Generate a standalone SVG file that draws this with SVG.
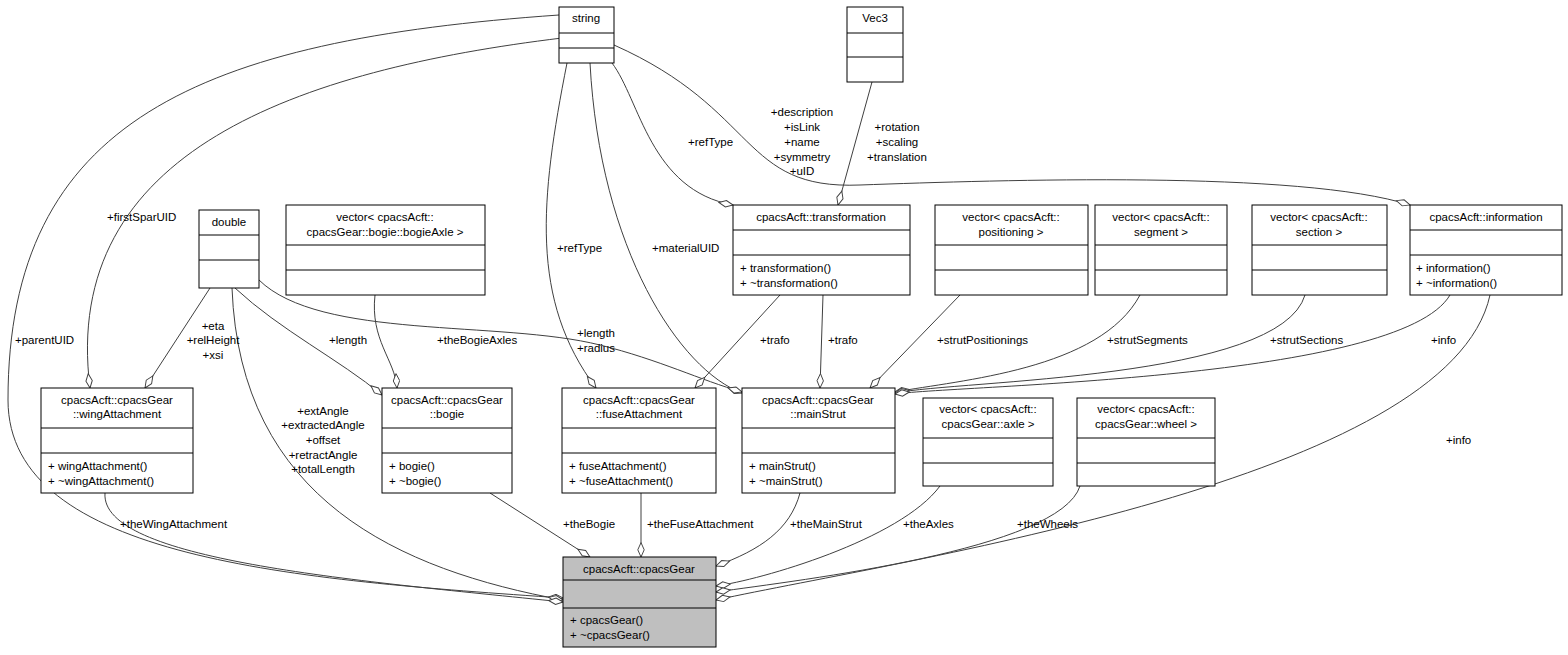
<svg xmlns="http://www.w3.org/2000/svg" width="1568" height="655" viewBox="0 0 1568 655">
<defs>
<marker id="d" viewBox="0 0 20 10" refX="19" refY="5" markerWidth="16" markerHeight="8" markerUnits="userSpaceOnUse" orient="auto">
<path d="M1,5 L10,1 L19,5 L10,9 Z" fill="#fff" stroke="#404040" stroke-width="1.2"/>
</marker>
<style>
text{font-family:"Liberation Sans",Arial,sans-serif;font-size:11.5px;fill:#000}
.b{fill:#fff;stroke:#000;stroke-width:1}
.g{fill:#bfbfbf;stroke:#000;stroke-width:1}
.c path{fill:none;stroke:#404040;stroke-width:1;marker-end:url(#d)}
.m{text-anchor:middle}
</style>
</defs>
<rect width="1568" height="655" fill="#fff"/>
<g class="c" id="connectors">
<path d="M559,15 C200,40 8,120 8,400 C8,560 300,580 563,598"/>
<path d="M562,38 C300,70 60,150 90,388"/>
<path d="M567,63 C540,200 530,300 596,388"/>
<path d="M590,63 C600,250 680,370 742,393"/>
<path d="M612,63 C640,100 650,190 733,205"/>
<path d="M614,45 C760,110 740,190 860,185 C1000,180 1300,170 1410,205"/>
<path d="M872,82 L838,205"/>
<path d="M210,288 L145,388"/>
<path d="M235,288 C280,330 340,360 382,395"/>
<path d="M259,280 C320,340 500,320 600,345 C660,360 700,380 742,392"/>
<path d="M232,288 C240,500 400,570 563,600"/>
<path d="M375,295 C370,340 395,360 397,388"/>
<path d="M780,295 L695,388"/>
<path d="M823,295 L820,388"/>
<path d="M960,295 L870,388"/>
<path d="M1140,295 C1100,370 960,380 895,392"/>
<path d="M1305,295 C1280,380 960,380 895,393"/>
<path d="M1450,295 C1400,380 960,385 895,394"/>
<path d="M1490,295 C1450,480 900,560 716,600"/>
<path d="M105,493 C100,560 350,580 563,602"/>
<path d="M490,493 L590,557"/>
<path d="M641,493 L641,557"/>
<path d="M800,493 C790,530 760,550 716,566"/>
<path d="M940,486 C900,540 760,580 716,586"/>
<path d="M1080,486 C1060,550 800,580 716,592"/>
</g>
<g id="labels">
<text x="15" y="344">+parentUID</text>
<text x="107" y="221">+firstSparUID</text>
<text x="557" y="252">+refType</text>
<text x="652" y="252">+materialUID</text>
<text x="688" y="146">+refType</text>
<text class="m" x="802" y="116">+description</text><text class="m" x="802" y="131">+isLink</text><text class="m" x="802" y="146">+name</text><text class="m" x="802" y="161">+symmetry</text><text class="m" x="802" y="175">+uID</text>
<text class="m" x="897" y="131">+rotation</text><text class="m" x="897" y="146">+scaling</text><text class="m" x="897" y="161">+translation</text>
<text class="m" x="213" y="330">+eta</text><text class="m" x="213" y="344">+relHeight</text><text class="m" x="213" y="359">+xsi</text>
<text x="329" y="344">+length</text>
<text x="437" y="344">+theBogieAxles</text>
<text class="m" x="596" y="337">+length</text><text class="m" x="596" y="352">+radius</text>
<text class="m" x="323" y="415">+extAngle</text><text class="m" x="323" y="429">+extractedAngle</text><text class="m" x="323" y="444">+offset</text><text class="m" x="323" y="459">+retractAngle</text><text class="m" x="323" y="473">+totalLength</text>
<text x="760" y="344">+trafo</text>
<text x="828" y="344">+trafo</text>
<text x="937" y="344">+strutPositionings</text>
<text x="1107" y="344">+strutSegments</text>
<text x="1270" y="344">+strutSections</text>
<text x="1431" y="344">+info</text>
<text x="1446" y="444">+info</text>
<text x="120" y="528">+theWingAttachment</text>
<text x="563" y="528">+theBogie</text>
<text x="647" y="528">+theFuseAttachment</text>
<text x="790" y="528">+theMainStrut</text>
<text x="903" y="528">+theAxles</text>
<text x="1017" y="528">+theWheels</text>
</g>
<g id="string"><rect class="b" x="559" y="7" width="55" height="56"/><path d="M559,33H614M559,48H614" stroke="#000"/><text class="m" x="586" y="22">string</text></g>
<g id="vec3"><rect class="b" x="847" y="7" width="56" height="75"/><path d="M847,33H903M847,57H903" stroke="#000"/><text class="m" x="875" y="22">Vec3</text></g>
<g id="double"><rect class="b" x="199" y="210" width="60" height="78"/><path d="M199,235H259M199,260H259" stroke="#000"/><text class="m" x="229" y="226">double</text></g>
<g id="bogieAxle"><rect class="b" x="286" y="205" width="199" height="90"/><path d="M286,245H485M286,270H485" stroke="#000"/><text class="m" x="385" y="221">vector&lt; cpacsAcft::</text><text class="m" x="385" y="236">cpacsGear::bogie::bogieAxle &gt;</text></g>
<g id="transformation"><rect class="b" x="733" y="205" width="177" height="90"/><path d="M733,230H910M733,255H910" stroke="#000"/><text class="m" x="821" y="221">cpacsAcft::transformation</text><text x="740" y="272">+ transformation()</text><text x="740" y="287">+ ~transformation()</text></g>
<g id="positioning"><rect class="b" x="935" y="205" width="153" height="90"/><path d="M935,245H1088M935,270H1088" stroke="#000"/><text class="m" x="1011" y="221">vector&lt; cpacsAcft::</text><text class="m" x="1011" y="236">positioning &gt;</text></g>
<g id="segment"><rect class="b" x="1095" y="205" width="132" height="90"/><path d="M1095,245H1227M1095,270H1227" stroke="#000"/><text class="m" x="1161" y="221">vector&lt; cpacsAcft::</text><text class="m" x="1161" y="236">segment &gt;</text></g>
<g id="section"><rect class="b" x="1252" y="205" width="135" height="90"/><path d="M1252,245H1387M1252,270H1387" stroke="#000"/><text class="m" x="1319" y="221">vector&lt; cpacsAcft::</text><text class="m" x="1319" y="236">section &gt;</text></g>
<g id="information"><rect class="b" x="1410" y="205" width="152" height="90"/><path d="M1410,230H1562M1410,255H1562" stroke="#000"/><text class="m" x="1486" y="221">cpacsAcft::information</text><text x="1416" y="272">+ information()</text><text x="1416" y="287">+ ~information()</text></g>
<g id="wingAttachment"><rect class="b" x="41" y="388" width="152" height="105"/><path d="M41,428H193M41,453H193" stroke="#000"/><text class="m" x="117" y="404">cpacsAcft::cpacsGear</text><text class="m" x="117" y="418">::wingAttachment</text><text x="48" y="470">+ wingAttachment()</text><text x="48" y="485">+ ~wingAttachment()</text></g>
<g id="bogie"><rect class="b" x="382" y="388" width="130" height="105"/><path d="M382,428H512M382,453H512" stroke="#000"/><text class="m" x="447" y="404">cpacsAcft::cpacsGear</text><text class="m" x="447" y="418">::bogie</text><text x="389" y="470">+ bogie()</text><text x="389" y="485">+ ~bogie()</text></g>
<g id="fuseAttachment"><rect class="b" x="562" y="388" width="154" height="105"/><path d="M562,428H716M562,453H716" stroke="#000"/><text class="m" x="639" y="404">cpacsAcft::cpacsGear</text><text class="m" x="639" y="418">::fuseAttachment</text><text x="569" y="470">+ fuseAttachment()</text><text x="569" y="485">+ ~fuseAttachment()</text></g>
<g id="mainStrut"><rect class="b" x="742" y="388" width="153" height="105"/><path d="M742,428H895M742,453H895" stroke="#000"/><text class="m" x="818" y="404">cpacsAcft::cpacsGear</text><text class="m" x="818" y="418">::mainStrut</text><text x="749" y="470">+ mainStrut()</text><text x="749" y="485">+ ~mainStrut()</text></g>
<g id="axle"><rect class="b" x="923" y="398" width="130" height="88"/><path d="M923,438H1053M923,463H1053" stroke="#000"/><text class="m" x="988" y="413">vector&lt; cpacsAcft::</text><text class="m" x="988" y="428">cpacsGear::axle &gt;</text></g>
<g id="wheel"><rect class="b" x="1077" y="398" width="138" height="88"/><path d="M1077,438H1215M1077,463H1215" stroke="#000"/><text class="m" x="1146" y="413">vector&lt; cpacsAcft::</text><text class="m" x="1146" y="428">cpacsGear::wheel &gt;</text></g>
<g id="cpacsGear"><rect class="g" x="563" y="557" width="153" height="90"/><path d="M563,580H716M563,608H716" stroke="#000"/><text class="m" x="639" y="573">cpacsAcft::cpacsGear</text><text x="570" y="624">+ cpacsGear()</text><text x="570" y="639">+ ~cpacsGear()</text></g>
</svg>
